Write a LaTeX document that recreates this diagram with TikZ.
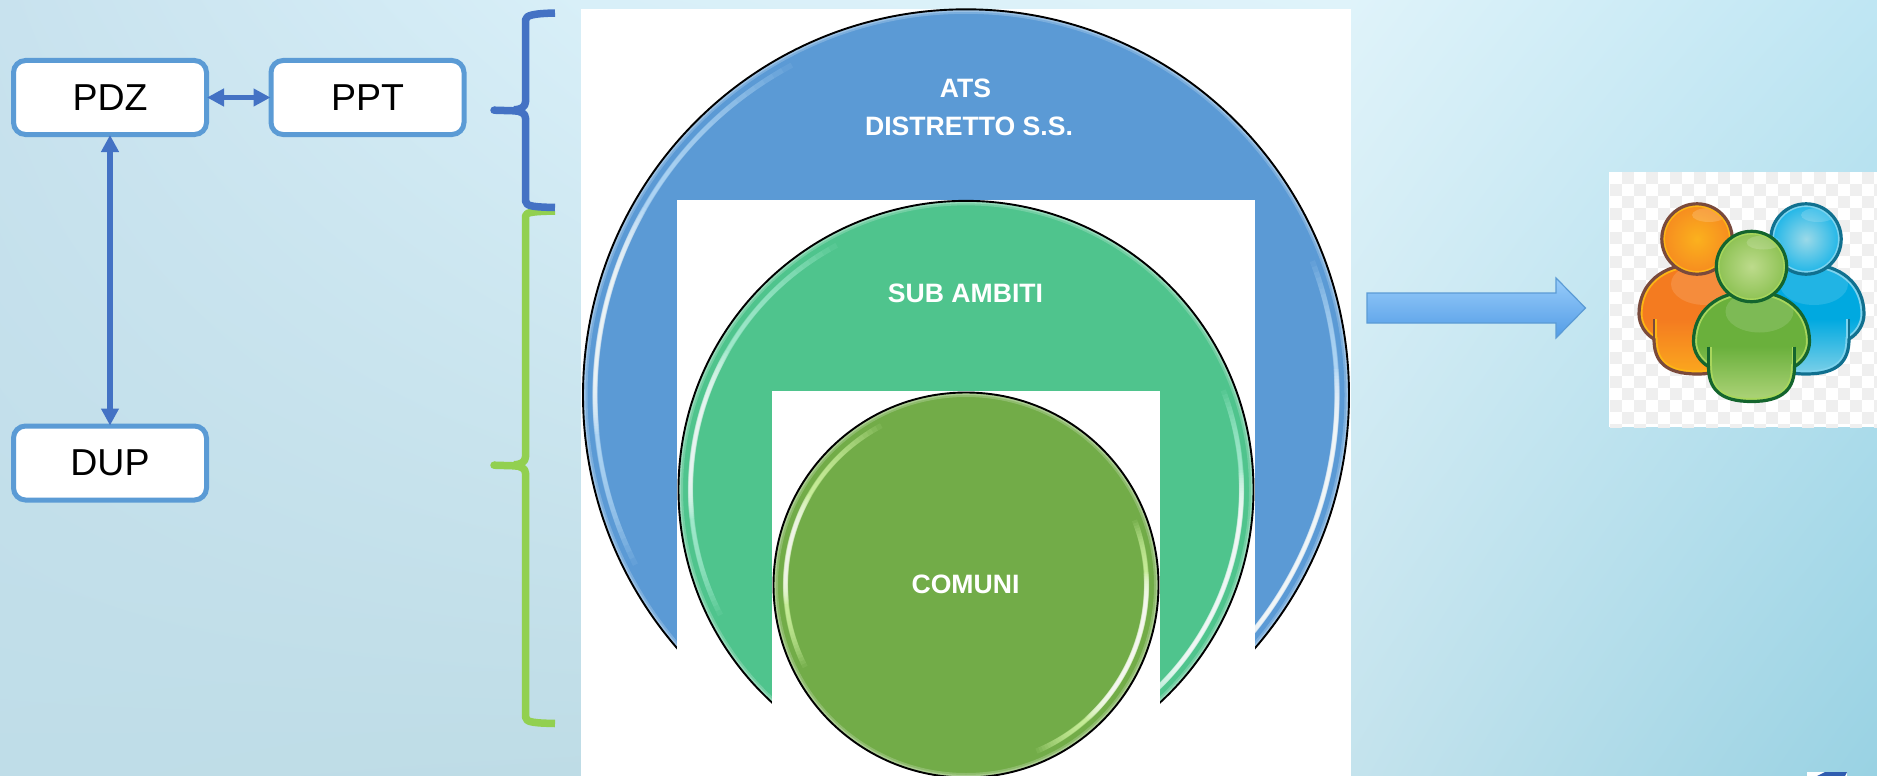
\documentclass[tikz,border=0pt]{standalone}
\usepackage{fontspec}
\setmainfont{Liberation Sans}
\usetikzlibrary{arrows.meta,shadings}
\definecolor{boxline}{HTML}{5B9BD5}
\definecolor{linkblue}{HTML}{4472C4}
\definecolor{bracegreen}{HTML}{92D050}
\definecolor{atsblue}{HTML}{5B9AD5}
\definecolor{subgreen}{HTML}{4FC48D}
\definecolor{comgreen}{HTML}{72AC48}
\definecolor{bgA}{HTML}{C8E2EE}
\definecolor{bgB}{HTML}{D8EFF8}
\definecolor{bgC}{HTML}{DFF3FA}
\definecolor{bgD}{HTML}{BFE6F3}
\definecolor{bgE}{HTML}{BFDDE8}
\definecolor{bgF}{HTML}{BEDCE6}
\definecolor{bgG}{HTML}{C4E3ED}
\definecolor{bgH}{HTML}{99D2E3}
\definecolor{arrowtop}{HTML}{98CCFA}
\definecolor{arrowbot}{HTML}{529CE6}
\definecolor{glintblue}{HTML}{C4E6FF}
\definecolor{glintgreen}{HTML}{B4F5DC}
\definecolor{glintcom}{HTML}{DDFFAE}
\definecolor{checker}{HTML}{EFEFEF}
\definecolor{oline}{HTML}{7A4A3C}
\definecolor{orim}{HTML}{FDB515}
\definecolor{obodyA}{HTML}{F47B20}
\definecolor{obodyB}{HTML}{FBA81E}
\definecolor{oheadA}{HTML}{F68B1F}
\definecolor{oheadB}{HTML}{FBB11E}
\definecolor{bline}{HTML}{10708F}
\definecolor{brim}{HTML}{7DD3EE}
\definecolor{bbodyA}{HTML}{00A9E0}
\definecolor{bbodyB}{HTML}{7CD0E8}
\definecolor{bheadA}{HTML}{1CB5E8}
\definecolor{bheadB}{HTML}{9BD9E8}
\definecolor{gline}{HTML}{14652E}
\definecolor{grim}{HTML}{A8D65C}
\definecolor{gbodyA}{HTML}{6AB03C}
\definecolor{gbodyB}{HTML}{AFD47A}
\definecolor{gheadA}{HTML}{8CC152}
\definecolor{gheadB}{HTML}{BDDB8C}
\definecolor{logoblue}{HTML}{2F5DB0}
\tikzset{
  x=1pt,y=-1pt,
  textbox/.style={draw=boxline,line width=5pt,fill=white,rounded corners=12pt,minimum width=193pt,minimum height=74pt,inner sep=0pt,font=\fontsize{37.5}{40}\selectfont},
  link/.style={draw=linkblue,line width=5.4pt,{Triangle[length=17pt,width=17pt]}-{Triangle[length=17pt,width=17pt]},shorten <=-2pt,shorten >=-2pt},
  bracepath/.style={line width=7.5pt,line join=round},
  circletext/.style={text=white,font=\fontsize{26.6}{38}\selectfont\bfseries,inner sep=0pt,anchor=base,align=center},
  cutout/.style={fill=white,draw=none},
  rimline/.style={line width=3.2pt}
}
% soft highlight built of many faint arcs; colour and opacity are set beforehand
\newcommand{\softglint}[5]{% radius, start-from, end-from, start-to, end-to
  \foreach \k in {0,...,19}{
    \pgfmathsetmacro{\gs}{#2+(#4-(#2))*\k/19}
    \pgfmathsetmacro{\ge}{#3+(#5-(#3))*\k/19}
    \pgfmathsetmacro{\gw}{5.4-.16*\k}
    \draw[\softcol,opacity=\softop,line width=\gw pt,line cap=butt] (\gs:#1pt) arc[start angle=\gs,end angle=\ge,radius=#1pt];
  }}
% a glass disc around the scope origin: radius, fill, glint colour
\newcommand{\glassdisc}[3]{%
  \fill[#2] (0,0) circle[radius=#1pt];
  \begin{scope}
    \clip (0,0) circle[radius=#1pt];
    \draw[white,opacity=.2,line width=9pt] (0,0) circle[radius=#1pt];
    \draw[white,opacity=.25,line width=5pt] (0,0) circle[radius=#1pt];
  \end{scope}
  \pgfmathsetmacro{\gr}{#1-12}
  \def\softcol{#3}\def\softop{.09}
  \softglint{\gr}{118}{207}{150}{186}
  \softglint{\gr}{-67}{21}{-48}{4}
  \def\softcol{white}\def\softop{.08}
  \softglint{\gr}{150}{186}{162}{178}
  \def\softop{.1}
  \softglint{\gr}{-48}{4}{-36}{-6}
  \draw[black,line width=1.9pt] (0,0) circle[radius=#1pt];
}
\newcommand{\bodyshape}{(0,25) .. controls (-35,25) and (-58,45) .. (-58,75) .. controls (-58,85) and (-52,95) .. (-43,100) .. controls (-43,122) and (-32,135) .. (0,135) .. controls (32,135) and (43,122) .. (43,100) .. controls (52,95) and (58,85) .. (58,75) .. controls (58,45) and (35,25) .. (0,25) -- cycle}
% person: x, y of head, dark line, rim, body top, body bottom, head outer, head inner
\newcommand{\person}[8]{%
  \begin{scope}[shift={(#1,#2)}]
    \shade[top color=#5,bottom color=#6,middle color=#5] \bodyshape;
    \begin{scope}
      \clip \bodyshape;
      \fill[white,opacity=.13] (8,45) ellipse[x radius=34pt,y radius=21pt];
      \draw[#4,line width=7pt] \bodyshape;
    \end{scope}
    \draw[#3,rimline,line join=round] \bodyshape;
    \draw[#4,line width=2pt] (-41,80) -- (-41,99);
    \draw[#4,line width=2pt] (41,80) -- (41,99);
    \draw[#3,line width=2.6pt] (-43,80) -- (-43,101);
    \draw[#3,line width=2.6pt] (43,80) -- (43,101);
    \shade[inner color=#8,outer color=#7] (0,0) circle[radius=35pt];
    \fill[white,opacity=.16] (12,-24) ellipse[x radius=17pt,y radius=7pt];
    \draw[#4,line width=2.4pt] (0,0) circle[radius=33.2pt];
    \draw[#3,rimline] (0,0) circle[radius=35.2pt];
  \end{scope}}
\begin{document}
\begin{tikzpicture}
\useasboundingbox (0,0) rectangle (1877,776);
\clip (0,0) rectangle (1877,776);
% background
\shade[upper left=bgA,upper right=bgB,lower left=bgE,lower right=bgF] (0,0) rectangle (582,776);
\shade[upper left=bgB,upper right=bgC,lower left=bgF,lower right=bgG] (581,0) rectangle (1352,776);
\shade[upper left=bgC,upper right=bgD,lower left=bgG,lower right=bgH] (1351,0) rectangle (1877,776);

% left boxes
\node[textbox] (pdz) at (110,97.5) {PDZ};
\node[textbox] (ppt) at (367.5,97.5) {PPT};
\node[textbox] (dup) at (110,463) {DUP};
\draw[link] (pdz.east) -- (ppt.west);
\draw[link] (pdz.south) -- (dup.north);

% braces
\draw[bracegreen,bracepath] (555,723.5) .. controls (535,723) and (525.5,722.5) .. (525.5,717) -- (525.5,473) .. controls (525.5,468) and (520,466) .. (514,465.8) -- (494,465.2) (514,464.8) .. controls (520,464.8) and (525.5,462) .. (525.5,457) -- (525.5,216) .. controls (525.5,212) and (535,211.5) .. (555,211);
\draw[linkblue,bracepath] (555,207.5) .. controls (535,207) and (525.5,206.5) .. (525.5,201) -- (525.5,118) .. controls (525.5,113) and (520,111) .. (514,110.8) -- (494,110.2) (514,109.8) .. controls (520,109.8) and (525.5,107) .. (525.5,102) -- (525.5,20) .. controls (525.5,15) and (535,13.5) .. (555,13);
\fill[linkblue] (494,110.2) circle[radius=3.75pt];
\fill[bracegreen] (494,465.2) circle[radius=3.75pt];

% nested discs on white
\fill[cutout] (581,9) rectangle (1351,776);
\begin{scope}[shift={(966,395)},yscale=1.007]
  \glassdisc{383}{atsblue}{glintblue}
\end{scope}
\fill[cutout] (677,200) rectangle (1255,776);
\begin{scope}[shift={(966,489.5)},yscale=1.004]
  \glassdisc{287.5}{subgreen}{glintgreen}
\end{scope}
\fill[cutout] (772,391) rectangle (1160,776);
\begin{scope}[shift={(966,585)}]
  \glassdisc{192.5}{comgreen}{glintcom}
\end{scope}

\node[circletext] (ats) at (969,135) {ATS\hspace*{7pt}\\DISTRETTO S.S.};
\node[circletext] (sub) at (965.5,302) {SUB AMBITI};
\node[circletext] (com) at (965.5,593) {COMUNI};

% block arrow
\shade[top color=arrowtop,bottom color=arrowbot,draw=boxline,line width=1.2pt]
  (1367,293) -- (1556,293) -- (1556,278) -- (1585.5,308) -- (1556,338) -- (1556,323) -- (1367,323) -- cycle;

% checkered picture
\fill[white] (1608.5,172) rectangle (1877,427);
\begin{scope}
  \clip (1608.5,172) rectangle (1877,427);
  \foreach \i in {0,...,22}{
    \foreach \j in {0,...,21}{
      \pgfmathparse{int(mod(\i+\j,2))}
      \ifnum\pgfmathresult=1
        \fill[checker] ({1610+12*\i},{172+12*\j}) rectangle ++(12,12);
      \fi
    }
  }
\end{scope}
\person{1697}{239}{oline}{orim}{obodyA}{obodyB}{oheadA}{oheadB}
\person{1806}{239}{bline}{brim}{bbodyA}{bbodyB}{bheadA}{bheadB}
\person{1751.5}{266.5}{gline}{grim}{gbodyA}{gbodyB}{gheadA}{gheadB}

% logo fragment at lower right
\fill[white] (1807,772) rectangle (1847,776);
\fill[logoblue] (1817,776) -- (1825,772) -- (1847,772) -- (1845,776) -- cycle;
\end{tikzpicture}
\end{document}
